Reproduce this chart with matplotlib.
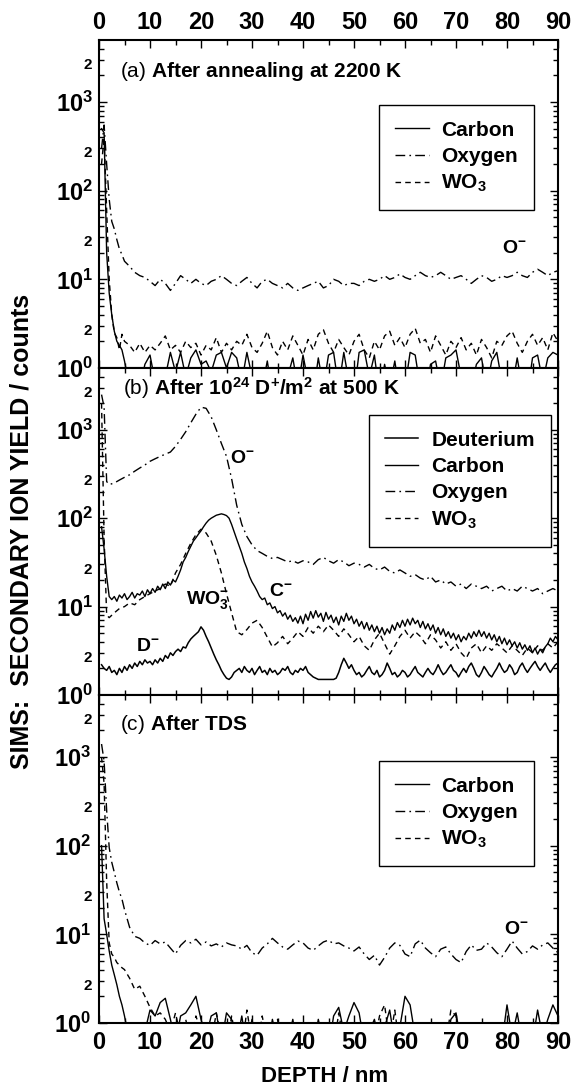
import numpy as np
import matplotlib
matplotlib.use('Agg')
import matplotlib.pyplot as plt
from matplotlib.ticker import MultipleLocator, NullFormatter

plt.rcParams['font.family'] = ['Liberation Sans', 'DejaVu Sans']
plt.rcParams['mathtext.fontset'] = 'custom'
plt.rcParams['mathtext.rm'] = 'Liberation Sans'
plt.rcParams['mathtext.bf'] = 'Liberation Sans:bold'
plt.rcParams['mathtext.it'] = 'Liberation Sans:italic'
plt.rcParams['mathtext.default'] = 'bf'

# ---- data (depth in nm, yield in counts) ----
# panels (a) and (c): fine steps near the surface, then 1 nm steps
head_ac = [0.5, 1.0, 1.5, 2.0, 2.5, 3.0, 3.5, 4.0, 4.5, 5.0]
tail_ac = (6, 90)

carbon_a = [500, 450, 20, 7, 4, 2.6, 2.0, 1.8, 1.6, 1.2,
            0.6, 0.5, 0.6, 1.1, 1.4, 0.7, 0.5, 0.8, 1.5, 0.9,
            1.5, 0.8, 1.3, 1.6, 1.1, 1.2, 0.9, 1.4, 1.5, 1.0,
            1.5, 1.3, 0.7, 1.5, 0.8, 0.5, 0.6, 1.2, 0.5, 0.6,
            0.5, 0.8, 1.3, 0.6, 1.4, 0.7, 0.5, 1.3, 0.6, 1.4,
            1.5, 0.6, 1.5, 0.7, 0.5, 1.5, 1.6, 0.8, 1.4, 0.5,
            1.1, 0.6, 1.2, 0.5, 0.6, 1.5, 1.4, 0.6, 0.5, 1.1,
            1.2, 0.6, 1.3, 1.4, 1.6, 0.8, 0.5, 0.6, 1.1, 1.3,
            0.6, 1.2, 1.5, 0.7, 0.5, 0.6, 1.3, 0.6, 0.5, 1.3,
            1.4, 0.7, 1.3, 1.5, 1.4]
oxygen_a = [300, 550, 200, 80, 45, 37, 28, 22, 19, 16,
            14, 12, 11, 10.5, 9.5, 8.5, 10, 9, 7.5, 9,
            11, 10, 9, 10, 9, 8.5, 9.5, 10, 11, 10,
            9, 8.5, 9.5, 10.5, 9, 8, 9.5, 10, 9, 8.5,
            8, 9, 8, 7.5, 8, 8.5, 9, 9.5, 8, 8.5,
            10, 9.5, 8.5, 9, 9, 8.5, 9.5, 10, 9.5, 10,
            11, 10, 10.5, 11.5, 10.5, 10, 11, 12, 11, 10.5,
            11, 12, 11, 10, 10.5, 11, 10, 9, 10, 11,
            10.5, 9.5, 10, 11, 10.5, 11, 12, 11, 10.5, 12,
            13, 12, 11, 12, 12.5]
wo3_a = [200, 400, 60, 10, 4, 2.5, 2.2, 1.6, 2.4, 2.0,
         1.8, 1.5, 1.9, 1.5, 1.8, 1.6, 1.9, 2.3, 1.6, 1.8,
         1.5, 2.0, 1.7, 1.9, 1.4, 1.8, 1.6, 2.2, 1.5, 1.9,
         1.6, 2.0, 1.8, 2.4, 1.7, 1.5, 1.9, 2.6, 1.7, 1.4,
         2.0, 1.6, 2.3, 1.8, 1.4, 2.1, 1.6, 2.4, 2.7, 1.9,
         1.5, 2.1, 1.7, 1.4, 2.0, 2.4, 1.6, 1.3, 2.0, 1.6,
         2.3, 2.6, 1.8, 2.2, 1.7, 2.4, 2.8, 1.9, 2.1, 1.5,
         2.3, 1.8, 1.4, 2.0, 1.7, 2.2, 1.6, 1.9, 1.4, 2.1,
         1.7, 1.3, 2.0, 1.8, 2.3, 2.6, 1.9, 1.5, 2.0, 2.4,
         1.8, 2.2, 1.6, 2.5, 2.0]

carbon_c = [100, 15, 10, 6.5, 4.5, 3.5, 2.7, 2.0, 1.6, 1.2,
            0.6, 0.5, 0.5, 0.8, 1.4, 1.2, 1.7, 1.9, 1.1, 0.6,
            1.2, 1.3, 1.6, 2.0, 1.1, 0.7, 1.2, 1.3, 0.6, 1.3,
            1.1, 0.6, 1.2, 0.5, 1.1, 0.5, 0.6, 0.5, 1.1, 0.6,
            0.5, 0.6, 1.1, 0.5, 0.5, 0.6, 0.5, 1.1, 0.6, 0.5,
            1.2, 1.5, 0.8, 1.2, 1.7, 1.3, 0.6, 0.8, 1.1, 0.6,
            0.9, 1.4, 0.6, 0.9, 2.0, 1.6, 0.7, 0.5, 0.5, 0.6,
            0.5, 0.6, 0.5, 1.1, 1.3, 0.6, 0.5, 0.5, 0.6, 0.5,
            0.5, 0.6, 0.5, 0.6, 1.6, 0.7, 1.3, 0.6, 0.5, 0.6,
            1.4, 0.7, 1.1, 1.6, 1.2]
oxygen_c = [1400, 900, 250, 95, 65, 50, 38, 30, 25, 19,
            12, 9.5, 9.0, 8.0, 7.5, 8.5, 7.8, 8.2, 7.0, 6.0,
            7.5, 8.5, 8.0, 8.8, 7.6, 8.2, 7.4, 7.8, 7.2, 8.0,
            7.6, 7.4, 6.8, 7.5, 6.2, 5.8, 7.0, 7.8, 9.0, 8.0,
            7.2, 6.8, 7.6, 8.4, 8.0, 7.0, 6.6, 7.4, 8.2, 8.6,
            7.8, 8.0, 7.4, 7.0, 6.5, 7.2, 6.0, 5.2, 5.8, 4.5,
            5.5, 7.0, 8.0, 7.5, 6.0, 5.6, 7.8, 8.6, 7.0, 6.2,
            5.6, 6.8, 7.2, 6.0, 5.2, 4.8, 6.4, 7.6, 6.6, 6.8,
            8.0, 7.2, 6.2, 5.6, 6.8, 8.4, 7.0, 6.0, 6.4, 7.4,
            6.8, 7.6, 8.0, 7.0, 6.2]
wo3_c = [1000, 500, 40, 8, 6, 5.5, 4.8, 4.5, 4.2, 4.0,
         3.2, 2.4, 2.6, 2.0, 1.5, 1.2, 1.3, 1.1, 0.8, 1.3,
         0.7, 1.1, 0.6, 1.2, 0.8, 1.0, 0.6, 1.3, 0.7, 0.5,
         1.2, 0.6, 0.5, 1.4, 0.6, 0.5, 1.2, 0.6, 0.5, 1.1,
         0.5, 0.6, 0.5, 0.5, 0.6, 0.5, 0.5, 0.6, 0.5, 0.6,
         0.5, 1.3, 0.6, 0.5, 0.6, 0.5, 0.6, 0.5, 0.6, 1.2,
         1.6, 0.6, 1.4, 0.5, 0.6, 0.5, 0.6, 0.5, 0.6, 0.5,
         0.6, 0.5, 0.6, 1.4, 1.2, 0.5, 0.6, 0.5, 0.6, 0.5,
         0.6, 0.5, 0.6, 0.5, 0.6, 0.5, 0.6, 0.5, 0.6, 0.5,
         0.6, 0.5, 0.6, 0.5, 0.6]

# panel (b)
head_b = [0.5, 1.0, 1.5, 2.0]
carbon_b_head = [80, 45, 22, 13]
carbon_b_tail = [12, 13, 11.5, 13.5, 12.5, 14, 12, 13, 14.5, 12.5,
                 14, 13.5, 15, 13, 15.5, 14, 16, 14.5, 17, 15.5,
                 18, 16, 19, 17.5, 20, 19, 22, 26, 32, 36,
                 42, 48, 55, 60, 66, 72, 80, 88, 95, 100,
                 104, 108, 110, 112, 110, 107, 100, 85, 70, 58,
                 48, 40, 32, 27, 22, 19, 17, 15, 13, 12,
                 12.5, 10.5, 11, 9.5, 10, 8.5, 9, 7.8, 8.5, 7.2,
                 8, 6.8, 7.5, 6.5, 7.8, 6.4, 8.2, 7.0, 8.8, 7.4,
                 9.0, 7.6, 8.4, 6.8, 8.6, 7.2, 8.0, 6.6, 7.6, 6.2,
                 7.8, 6.8, 8.4, 7.0, 7.8, 6.4, 7.2, 6.0, 6.8, 5.6,
                 6.6, 5.4, 6.2, 5.2, 6.0, 5.0, 5.8, 4.8, 5.6, 5.0,
                 6.2, 5.4, 6.6, 5.8, 7.0, 6.0, 7.2, 6.2, 7.4, 6.4,
                 7.0, 5.8, 6.8, 5.6, 6.4, 5.4, 6.2, 5.0, 5.8, 4.8,
                 5.6, 4.6, 5.2, 4.4, 5.0, 4.2, 4.8, 4.0, 4.6, 4.2,
                 5.0, 4.4, 5.2, 4.6, 5.4, 4.6, 5.2, 4.4, 5.0, 4.2,
                 4.8, 4.0, 4.6, 3.8, 4.4, 3.7, 4.2, 3.6, 4.0, 3.4,
                 3.9, 3.3, 3.7, 3.2, 3.6, 3.0, 3.4, 2.9, 3.3, 3.0,
                 3.5, 3.8, 4.4, 4.0, 4.6, 4.2]
carbon_b_range = (2.5, 90)

deut_b = [2.2, 2.0, 1.9, 2.1, 1.8, 1.9, 1.7, 2.0, 1.8, 2.1,
          1.9, 2.2, 2.0, 2.3, 2.1, 2.4, 2.2, 2.5, 2.3, 2.4,
          2.2, 2.5, 2.3, 2.6, 2.4, 2.8, 2.6, 3.0, 2.8, 3.1,
          3.3, 3.1, 3.5, 3.4, 3.9, 4.3, 4.6, 4.9, 5.2, 5.9,
          5.4, 4.6, 4.0, 3.4, 2.9, 2.5, 2.2, 1.9, 1.7, 1.55,
          1.5, 1.6, 1.8, 1.9, 2.0, 1.8, 2.1, 1.9, 1.8, 2.0,
          1.7, 1.9, 2.1, 1.8, 1.9, 1.7, 2.0, 1.8, 1.9, 1.7,
          1.8, 2.0, 1.9, 2.1, 1.8, 1.7, 1.9, 1.8, 2.0, 1.9,
          2.1, 1.8, 1.7, 1.6, 1.55, 1.5, 1.5, 1.5, 1.5, 1.5,
          1.5, 1.5, 1.55, 1.8, 2.2, 2.6, 2.3, 2.0, 2.2, 1.9,
          1.7, 1.8, 1.6, 1.7, 1.9, 2.1, 1.8, 1.7, 1.9, 1.6,
          1.7, 1.9, 2.3, 2.0, 1.7, 1.8, 1.6, 1.7, 1.9, 1.8,
          1.6, 1.7, 1.9, 2.1, 1.8, 1.7, 1.6, 1.8, 2.0, 1.8,
          1.7, 1.9, 2.2, 1.9, 1.7, 1.8, 2.0, 2.2, 1.9, 1.8,
          1.6, 1.8, 2.0, 1.8, 2.1, 2.3, 2.0, 1.7, 1.6, 1.8,
          2.1, 1.9, 1.7, 1.6, 1.8, 2.0, 2.3, 2.0, 1.8, 1.9,
          2.2, 2.0, 1.7, 1.8, 2.1, 2.3, 2.0, 1.8, 2.0, 2.2,
          2.4, 2.1, 1.9, 2.1, 2.3, 2.0, 1.8, 2.0, 2.2, 2.3]
deut_b_range = (0.5, 90)

oxygen_b_head = [2500, 1800, 260, 240]
oxygen_b_tail = [250, 270, 290, 310, 340, 370, 400, 440, 470, 500,
                 530, 560, 650, 780, 950, 1200, 1500, 1800, 1750, 1400,
                 1000, 700, 500, 280, 140, 85, 62, 50, 43, 40,
                 37, 35, 36, 34, 32, 33, 31, 33, 32, 30,
                 34, 36, 33, 31, 34, 32, 29, 31, 30, 28,
                 30, 27, 26, 28, 25, 24, 26, 24, 22, 23,
                 21, 20, 22, 19, 20, 18, 19, 17, 18, 16,
                 18, 17, 16, 17, 15, 16, 17, 15, 16, 15,
                 17, 16, 15, 16, 14, 15, 16, 15]
wo3_b_head = [2000, 60, 8, 7.5]
wo3_b_tail = [8.5, 9.5, 10, 11, 10.5, 12, 13, 14, 15, 16,
              18, 17, 24, 30, 40, 52, 65, 75, 68, 55,
              38, 24, 14, 8.5, 5.2, 4.8, 5.5, 6.5, 7.0, 5.8,
              4.5, 3.5, 3.9, 4.6, 3.8, 4.4, 5.2, 4.6, 5.8, 5.0,
              6.0, 5.2, 6.2, 5.4, 4.6, 5.6, 4.8, 4.0, 4.6, 3.6,
              3.2, 4.2, 5.0, 3.8, 2.9, 3.6, 4.6, 5.4, 4.4, 5.2,
              4.6, 3.8, 4.8, 4.2, 3.4, 4.0, 3.2, 3.8, 3.0, 2.6,
              3.4, 3.8, 3.0, 3.6, 3.2, 3.8, 3.4, 3.0, 3.6, 3.2,
              2.8, 3.4, 3.0, 3.6, 3.2, 3.8, 3.4, 4.0]
ob_range = (3, 90)

x_ticks = [0, 10, 20, 30, 40, 50, 60, 70, 80, 90]
y_major = [1, 10, 100, 1000]
y_major_labels = [r'$10^{0}$', r'$10^{1}$', r'$10^{2}$', r'$10^{3}$']

STYLE = {
    'Deuterium': dict(ls='-', lw=1.1),
    'Carbon': dict(ls='-', lw=1.0),
    'Oxygen': dict(ls=(0, (7, 3, 1.2, 3)), lw=1.0),
    'WO3': dict(ls=(0, (4, 3)), lw=1.0),
}


def with_tail(head, tail_range, tail_vals):
    """先頭の細かい点と等間隔の残りをつなぐ"""
    tail_x = np.linspace(tail_range[0], tail_range[1], len(tail_vals))
    return np.concatenate([head, tail_x])


def setup_axis(ax):
    ax.set_yscale('log')
    ax.set_xlim(0, 90)
    ax.set_ylim(1, 5000)
    ax.set_xticks(x_ticks, labels=[str(v) for v in x_ticks],
                  fontsize=17, fontweight='bold')
    ax.xaxis.set_minor_locator(MultipleLocator(5))
    ax.set_yticks(y_major, labels=y_major_labels, fontsize=17)
    minors = [m * 10 ** e for e in range(4) for m in range(2, 10) if m * 10 ** e < 5000]
    ax.set_yticks(minors, minor=True)
    ax.yaxis.set_minor_formatter(NullFormatter())
    ax.tick_params(which='both', direction='in', top=True, right=True,
                   left=True, bottom=True, width=1)
    ax.tick_params(which='major', length=6, pad=4)
    ax.tick_params(which='minor', length=3.5)
    for s in ax.spines.values():
        s.set_linewidth(1.5)
    for e in range(4):
        ax.annotate('2', xy=(0, 2 * 10 ** e), xycoords=('axes fraction', 'data'),
                    xytext=(-5, 2.5), textcoords='offset points',
                    ha='right', va='bottom', fontsize=11, fontweight='bold')


def add_legend(ax, x0, ytop):
    leg = ax.legend(loc='upper left', bbox_to_anchor=(x0, ytop), borderaxespad=0,
                    prop={'weight': 'bold', 'size': 15}, frameon=True,
                    fancybox=False, edgecolor='black', framealpha=1,
                    borderpad=0.75, handlelength=1.63, handletextpad=0.62,
                    labelspacing=0.35)
    leg.get_frame().set_linewidth(1.0)


fig = plt.figure(figsize=(5.74, 10.9), dpi=100)
W = 574.0
H = 1090.0
left = 99 / W
width = 459 / W
ax_a = fig.add_axes([left, 1 - 368 / H, width, 328 / H])
ax_b = fig.add_axes([left, 1 - 695 / H, width, 327 / H])
ax_c = fig.add_axes([left, 1 - 1023 / H, width, 328 / H])

x_ac = with_tail(head_ac, tail_ac, oxygen_a[len(head_ac):])

# (a)
ax_a.plot(x_ac, carbon_a, color='black', label='Carbon', **STYLE['Carbon'])
ax_a.plot(x_ac, oxygen_a, color='black', label='Oxygen', **STYLE['Oxygen'])
ax_a.plot(x_ac, wo3_a, color='black', label=r'WO$_3$', **STYLE['WO3'])
setup_axis(ax_a)
ax_a.tick_params(labeltop=True, labelbottom=False)
ax_a.text(0.046, 0.905, r'$\mathrm{(a)}$ After annealing at 2200 K',
          transform=ax_a.transAxes, fontsize=15, fontweight='bold', va='center')
ax_a.text(81.5, 22, r'O$^{-}$', fontsize=14, fontweight='bold', ha='center', va='center')
add_legend(ax_a, 0.610, 0.802)

# (b)
x_cb = with_tail(head_b, carbon_b_range, carbon_b_tail)
x_db = np.linspace(deut_b_range[0], deut_b_range[1], len(deut_b))
x_ob = with_tail(head_b, ob_range, oxygen_b_tail)
x_wb = with_tail(head_b, ob_range, wo3_b_tail)
ax_b.plot(x_db, deut_b, color='black', label='Deuterium', **STYLE['Deuterium'])
ax_b.plot(x_cb, carbon_b_head + carbon_b_tail, color='black', label='Carbon', **STYLE['Carbon'])
ax_b.plot(x_ob, oxygen_b_head + oxygen_b_tail, color='black', label='Oxygen', **STYLE['Oxygen'])
ax_b.plot(x_wb, wo3_b_head + wo3_b_tail, color='black', label=r'WO$_3$', **STYLE['WO3'])
setup_axis(ax_b)
ax_b.tick_params(labeltop=False, labelbottom=False)
ax_b.text(0.052, 0.939, r'$\mathrm{(b)}$ After 10$^{24}$ D$^{+}$/m$^{2}$ at 500 K',
          transform=ax_b.transAxes, fontsize=15, fontweight='bold', va='center')
ax_b.text(28.2, 470, r'O$^{-}$', fontsize=14, fontweight='bold', ha='center', va='center')
ax_b.text(35.7, 14.8, r'C$^{-}$', fontsize=14, fontweight='bold', ha='center', va='center')
ax_b.text(21.2, 12, r'WO$_3^{-}$', fontsize=14, fontweight='bold', ha='center', va='center')
ax_b.text(9.6, 3.5, r'D$^{-}$', fontsize=14, fontweight='bold', ha='center', va='center')
add_legend(ax_b, 0.588, 0.856)

# (c)
ax_c.plot(x_ac, carbon_c, color='black', label='Carbon', **STYLE['Carbon'])
ax_c.plot(x_ac, oxygen_c, color='black', label='Oxygen', **STYLE['Oxygen'])
ax_c.plot(x_ac, wo3_c, color='black', label=r'WO$_3$', **STYLE['WO3'])
setup_axis(ax_c)
ax_c.tick_params(labeltop=False, labelbottom=True, pad=6)
ax_c.text(0.046, 0.909, r'$\mathrm{(c)}$ After TDS',
          transform=ax_c.transAxes, fontsize=15, fontweight='bold', va='center')
ax_c.text(81.8, 11.4, r'O$^{-}$', fontsize=14, fontweight='bold', ha='center', va='center')
add_legend(ax_c, 0.610, 0.799)

fig.text(22 / W, 1 - 531 / H, 'SIMS:  SECONDARY ION YIELD / counts', rotation=90,
         ha='center', va='center', fontsize=18, fontweight='bold')
fig.text(325 / W, 1 - 1077 / H, 'DEPTH / nm', ha='center', va='center',
         fontsize=16, fontweight='bold')

fig.savefig('out.png', dpi=100)
